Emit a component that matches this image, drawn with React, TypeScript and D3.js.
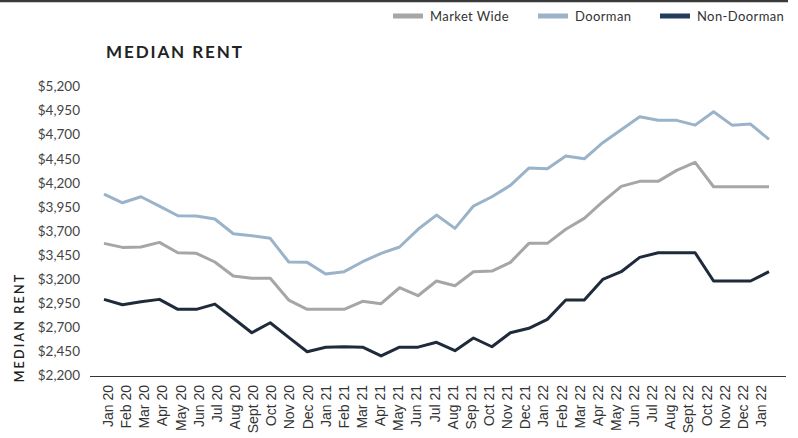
import React from "react";
import * as d3 from "d3";

const months = ["Jan 20","Feb 20","Mar 20","Apr 20","May 20","Jun 20","Jul 20","Aug 20","Sept 20","Oct 20","Nov 20","Dec 20","Jan 21","Feb 21","Mar 21","Apr 21","May 21","Jun 21","Jul 21","Aug 21","Sep 21","Oct 21","Nov 21","Dec 21","Jan 22","Feb 22","Mar 22","Apr 22","May 22","Jun 22","Jul 22","Aug 22","Sept 22","Oct 22","Nov 22","Dec 22","Jan 22"];

const marketWide = [3570,3528,3532,3580,3472,3466,3376,3230,3206,3206,2980,2883,2883,2883,2967,2942,3108,3025,3178,3129,3275,3282,3372,3570,3570,3716,3830,4003,4163,4215,4215,4329,4413,4159,4159,4159,4159];
const doorman = [4083,3992,4055,3958,3857,3854,3823,3670,3650,3622,3376,3372,3250,3275,3379,3466,3532,3716,3864,3726,3958,4055,4173,4353,4346,4478,4450,4617,4752,4887,4850,4850,4800,4939,4800,4811,4652];
const nonDoorman = [2987,2931,2962,2987,2883,2883,2938,2790,2640,2744,2592,2442,2488,2494,2490,2398,2490,2490,2540,2453,2585,2494,2640,2686,2779,2980,2980,3195,3275,3424,3472,3472,3472,3178,3178,3178,3275];

const yTicks = [2200,2450,2700,2950,3200,3450,3700,3950,4200,4450,4700,4950,5200];

const seriesNames = ["Market Wide", "Doorman", "Non-Doorman"];
const seriesColors = ["#a6a6a6", "#9bb3c9", "#1f2a3b"];
const legendColors = ["#a6a6a6", "#9bb3c9", "#243b5c"];

export default function App() {
  const W = 798, H = 438;
  const idx = months.map((_, i) => i);
  const x = d3.scalePoint<number>().domain(idx).range([104, 769]);
  const xLab = d3.scalePoint<number>().domain(idx).range([108, 761]);
  const y = d3.scaleLinear().domain([2200, 5200]).range([375, 86.7]);
  const line = d3.line<number>().x((_, i) => x(i) as number).y((d) => y(d));
  const data = [marketWide, doorman, nonDoorman];
  const fmt = d3.format("$,");
  const font = "Lato, 'Open Sans', sans-serif";

  const legendX = [393, 538, 660];

  return (
    <svg width={W} height={H} style={{ position: "absolute", left: 0, top: 0, background: "#fff" }}>
      <rect x={0} y={0} width={W} height={H} fill="#fff" />
      <line x1={0} x2={788} y1={1} y2={1} stroke="#3a3a3a" strokeWidth={2.5} />
      {/* legend */}
      {seriesNames.map((n, i) => (
        <g key={n}>
          <rect x={legendX[i]} y={13.5} width={30} height={5} fill={legendColors[i]} />
          <text x={legendX[i] + 37} y={21} fontFamily={font} fontSize={13} letterSpacing={0.4} fill="#333">{n}</text>
        </g>
      ))}
      {/* title */}
      <text x={106} y={58} fontFamily={font} fontSize={17} fontWeight={700} letterSpacing={1.9} fill="#222">MEDIAN RENT</text>
      {/* y ticks */}
      {yTicks.map((t) => (
        <text key={t} x={80} y={y(t)} dy="0.35em" textAnchor="end" fontFamily={font} fontSize={13.5} fill="#444">{fmt(t)}</text>
      ))}
      {/* y title */}
      <text transform={`translate(19.5,327.5) rotate(-90)`} dy="0.35em" textAnchor="middle" fontFamily={font} fontSize={12.5} fontWeight={600} letterSpacing={2.2} fill="#222">MEDIAN RENT</text>
      {/* axis line */}
      <line x1={90} x2={786} y1={376.5} y2={376.5} stroke="#333" strokeWidth={1} />
      {/* x labels */}
      {months.map((m, i) => (
        <text key={i} transform={`translate(${xLab(i)},385) rotate(-90)`} dy="0.36em" textAnchor="end" fontFamily="'Liberation Sans', Arial, sans-serif" fontSize={14} fill="#333">{m}</text>
      ))}
      {/* lines */}
      {data.map((d, i) => (
        <path key={i} d={line(d) as string} fill="none" stroke={seriesColors[i]} strokeWidth={3} strokeLinejoin="round" strokeLinecap="butt" />
      ))}
    </svg>
  );
}
